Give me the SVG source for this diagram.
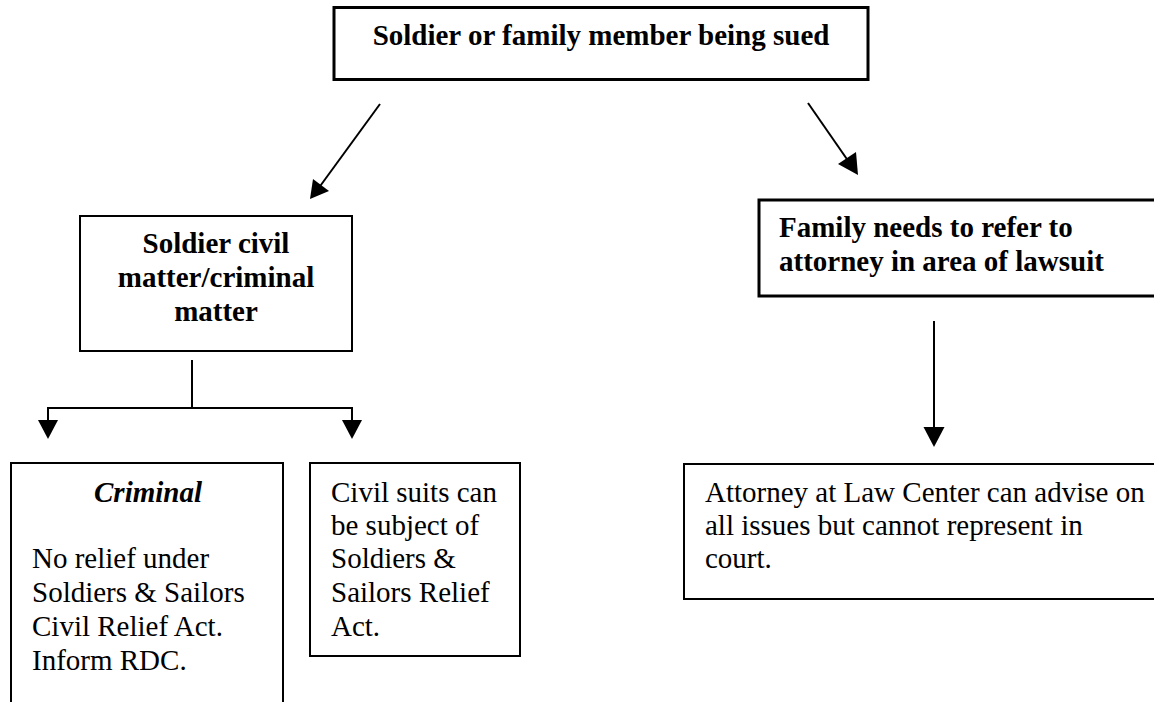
<svg xmlns="http://www.w3.org/2000/svg" width="1154" height="702" viewBox="0 0 1154 702">
  <style>
    .box { fill: #ffffff; stroke: #000000; }
    .txt { font-family: "Liberation Serif", "Times New Roman", serif; font-size: 29px; fill: #000000; }
    .b { font-weight: bold; }
    .bi { font-weight: bold; font-style: italic; }
    .ln { stroke: #000000; stroke-width: 2; fill: none; }
    .head { fill: #000000; stroke: none; }
  </style>

  <!-- top node -->
  <g id="node-sued">
    <rect class="box" x="334" y="7.5" width="534" height="72" stroke-width="3"/>
    <text class="txt b" x="601" y="45" text-anchor="middle">Soldier or family member being sued</text>
  </g>

  <!-- soldier branch -->
  <g id="node-soldier-matter">
    <rect class="box" x="80" y="216" width="272" height="135" stroke-width="2"/>
    <text class="txt b" x="216" y="253" text-anchor="middle">Soldier civil</text>
    <text class="txt b" x="216" y="287" text-anchor="middle">matter/criminal</text>
    <text class="txt b" x="216" y="321" text-anchor="middle">matter</text>
  </g>

  <g id="node-criminal">
    <rect class="box" x="11" y="463" width="272" height="250" stroke-width="2"/>
    <text class="txt bi" x="148" y="502" text-anchor="middle">Criminal</text>
    <text class="txt" x="32" y="568">No relief under</text>
    <text class="txt" x="32" y="602">Soldiers &amp; Sailors</text>
    <text class="txt" x="32" y="636">Civil Relief Act.</text>
    <text class="txt" x="32" y="670">Inform RDC.</text>
  </g>

  <g id="node-civil">
    <rect class="box" x="310" y="463" width="210" height="193" stroke-width="2"/>
    <text class="txt" x="331" y="502">Civil suits can</text>
    <text class="txt" x="331" y="535">be subject of</text>
    <text class="txt" x="331" y="568">Soldiers &amp;</text>
    <text class="txt" x="331" y="602">Sailors Relief</text>
    <text class="txt" x="331" y="636">Act.</text>
  </g>

  <!-- family branch -->
  <g id="node-family-refer">
    <rect class="box" x="759" y="200" width="400" height="96" stroke-width="3"/>
    <text class="txt b" x="779" y="237">Family needs to refer to</text>
    <text class="txt b" x="779" y="271">attorney in area of lawsuit</text>
  </g>

  <g id="node-law-center">
    <rect class="box" x="684" y="464" width="475" height="135" stroke-width="2"/>
    <text class="txt" x="705" y="502">Attorney at Law Center can advise on</text>
    <text class="txt" x="705" y="535">all issues but cannot represent in</text>
    <text class="txt" x="705" y="568">court.</text>
  </g>

  <!-- connectors -->
  <g id="connectors">
    <!-- top to soldier box -->
    <line class="ln" x1="380" y1="104" x2="318" y2="189"/>
    <polygon class="head" points="310,199 313,179 329,191"/>
    <!-- top to family box -->
    <line class="ln" x1="808" y1="103" x2="851" y2="165"/>
    <polygon class="head" points="858,175 838,164 856,152"/>
    <!-- soldier box split -->
    <polyline class="ln" points="192,360 192,408"/>
    <polyline class="ln" points="48,421 48,408 352,408 352,421"/>
    <polygon class="head" points="38,420 58,420 48,439"/>
    <polygon class="head" points="342,420 362,420 352,439"/>
    <!-- family box to law center -->
    <line class="ln" x1="934" y1="321" x2="934" y2="428"/>
    <polygon class="head" points="923.5,427 944.5,427 934,447"/>
  </g>
</svg>
